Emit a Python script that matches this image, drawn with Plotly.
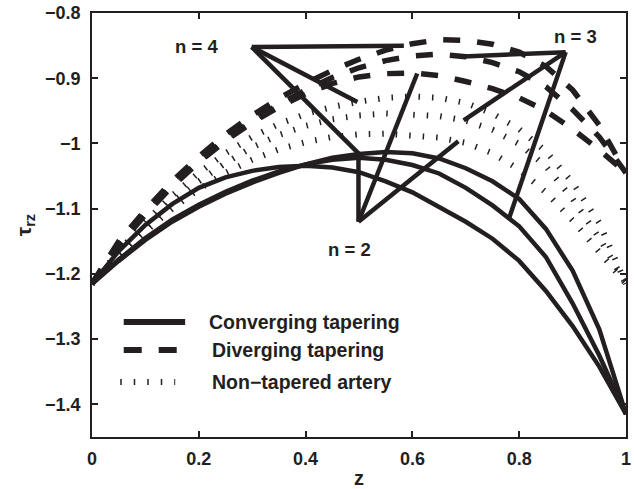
import numpy as np
import plotly.graph_objects as go

# Axial coordinate
z = [0.00, 0.05, 0.10, 0.15, 0.20, 0.25, 0.30, 0.35, 0.40, 0.45, 0.50,
     0.55, 0.60, 0.65, 0.70, 0.75, 0.80, 0.85, 0.90, 0.95, 1.00]

# Shear stress tau_rz, converging tapering (solid)
conv_n2 = [-1.215, -1.180, -1.148, -1.120, -1.097, -1.077, -1.060, -1.045, -1.032, -1.022, -1.016,
           -1.013, -1.015, -1.023, -1.038, -1.058, -1.085, -1.131, -1.195, -1.285, -1.415]
conv_n3 = [-1.215, -1.178, -1.145, -1.117, -1.094, -1.074, -1.057, -1.043, -1.032, -1.025, -1.022,
           -1.025, -1.033, -1.046, -1.068, -1.095, -1.127, -1.174, -1.245, -1.325, -1.415]
conv_n4 = [-1.215, -1.165, -1.125, -1.093, -1.068, -1.052, -1.042, -1.036, -1.034, -1.037, -1.044,
           -1.058, -1.075, -1.098, -1.120, -1.146, -1.180, -1.226, -1.280, -1.342, -1.415]

# Diverging tapering (dashed)
div_n4 = [-1.215, -1.150, -1.102, -1.058, -1.020, -0.986, -0.957, -0.931, -0.908, -0.888, -0.871,
          -0.857, -0.847, -0.841, -0.842, -0.848, -0.860, -0.882, -0.918, -0.972, -1.045]
div_n3 = [-1.215, -1.155, -1.107, -1.064, -1.027, -0.994, -0.965, -0.940, -0.918, -0.899, -0.884,
          -0.873, -0.866, -0.863, -0.867, -0.876, -0.890, -0.913, -0.948, -0.990, -1.045]
div_n2 = [-1.215, -1.157, -1.109, -1.066, -1.029, -0.996, -0.968, -0.944, -0.924, -0.908, -0.898,
          -0.893, -0.892, -0.896, -0.905, -0.916, -0.930, -0.950, -0.978, -1.010, -1.045]

# Non-tapered artery (dotted)
non_n4 = [-1.215, -1.165, -1.120, -1.080, -1.045, -1.015, -0.990, -0.970, -0.955, -0.944, -0.936,
          -0.930, -0.928, -0.930, -0.938, -0.954, -0.978, -1.012, -1.060, -1.122, -1.215]
non_n3 = [-1.215, -1.170, -1.128, -1.090, -1.058, -1.030, -1.006, -0.987, -0.973, -0.963, -0.957,
          -0.954, -0.955, -0.958, -0.965, -0.979, -1.001, -1.035, -1.085, -1.145, -1.215]
non_n2 = [-1.215, -1.175, -1.135, -1.100, -1.070, -1.045, -1.025, -1.009, -0.998, -0.990, -0.986,
          -0.985, -0.987, -0.991, -0.999, -1.015, -1.040, -1.075, -1.118, -1.165, -1.215]

x_ticks = [0, 0.2, 0.4, 0.6, 0.8, 1]
x_tick_text = ["0", "0.2", "0.4", "0.6", "0.8", "1"]
y_ticks = [-1.4, -1.3, -1.2, -1.1, -1.0, -0.9, -0.8]
y_tick_text = ["\u22121.4", "\u22121.3", "\u22121.2", "\u22121.1", "\u22121", "\u22120.9", "\u22120.8"]

legend_labels = ["Converging tapering", "Diverging tapering", "Non\u2212tapered artery"]

ink = "#231f20"
font_family = "Liberation Sans, Arial, sans-serif"

fig = go.Figure()


def curve(y, dash, width):
    fig.add_trace(go.Scatter(x=z, y=y, mode="lines", showlegend=False, hoverinfo="skip",
                             line=dict(color=ink, width=width, dash=dash)))


for y in (non_n4, non_n3, non_n2):
    curve(y, "1.5px,12px", 6)
for y in (div_n4, div_n3, div_n2):
    curve(y, "17px,17px", 5.5)
for y in (conv_n2, conv_n3, conv_n4):
    curve(y, "solid", 4.5)

# "n = ..." call-outs: a hub point joined to one curve of each family
callouts = [
    dict(text="n = 4", label=(0.195, -0.852), hub=(0.299, -0.852),
         targets=[(div_n4, 0.584), (non_n4, 0.497), (conv_n2, 0.500)]),
    dict(text="n = 2", label=(0.482, -1.163), hub=(0.499, -1.120),
         targets=[(conv_n2, 0.499), (div_n2, 0.609), (non_n2, 0.686)]),
    dict(text="n = 3", label=(0.905, -0.836), hub=(0.887, -0.860),
         targets=[(div_n3, 0.696), (non_n3, 0.696), (conv_n3, 0.781)]),
]
for c in callouts:
    hx, hy = c["hub"]
    for series, tx in c["targets"]:
        ty = float(np.interp(tx, z, series))
        fig.add_trace(go.Scatter(x=[hx, tx], y=[hy, ty], mode="lines", showlegend=False,
                                 hoverinfo="skip", line=dict(color=ink, width=4.5)))
    fig.add_annotation(x=c["label"][0], y=c["label"][1], text=c["text"], showarrow=False,
                       xanchor="center", yanchor="middle",
                       font=dict(family=font_family, size=18.5, color=ink, weight="bold"))

# Legend drawn inside the axes (lower-left)
legend_rows = [
    dict(dash="solid", x0=0.0594, x1=0.1744, y=0.2712, tx=0.2152),
    dict(dash="18px,17px", x0=0.0594, x1=0.1596, y=0.2052, tx=0.2208),
    dict(dash="1.5px,12px", x0=0.0529, x1=0.1558, y=0.1297, tx=0.2208),
]
for row, label in zip(legend_rows, legend_labels):
    fig.add_shape(type="line", xref="paper", yref="paper", x0=row["x0"], x1=row["x1"],
                  y0=row["y"], y1=row["y"], line=dict(color=ink, width=6, dash=row["dash"]))
    fig.add_annotation(xref="paper", yref="paper", x=row["tx"], y=row["y"], text=label,
                       showarrow=False, xanchor="left", yanchor="middle",
                       font=dict(family=font_family, size=19.5, color=ink, weight="bold"))

axis_common = dict(showgrid=False, zeroline=False, showline=True, linecolor=ink, linewidth=1.5,
                   mirror="ticks", ticks="inside", ticklen=6, tickwidth=1.5, tickcolor=ink,
                   ticklabeloverflow="allow",
                   tickfont=dict(family=font_family, size=18, color=ink, weight="bold"))

fig.update_layout(
    width=634, height=489,
    margin=dict(l=92, r=3, t=13, b=52),
    paper_bgcolor="white", plot_bgcolor="white",
    xaxis=dict(range=[0, 1], tickvals=x_ticks, ticktext=x_tick_text, ticklabelstandoff=5,
               title=dict(text="z", standoff=3,
                          font=dict(family=font_family, size=20, color=ink, weight="bold")),
               **axis_common),
    yaxis=dict(range=[-1.45, -0.8], tickvals=y_ticks, ticktext=y_tick_text, ticklabelstandoff=6,
               title=dict(text="\u03c4<sub>rz</sub>", standoff=8,
                          font=dict(family=font_family, size=21, color=ink, weight="bold")),
               **axis_common),
)

fig.write_html("out.html")
